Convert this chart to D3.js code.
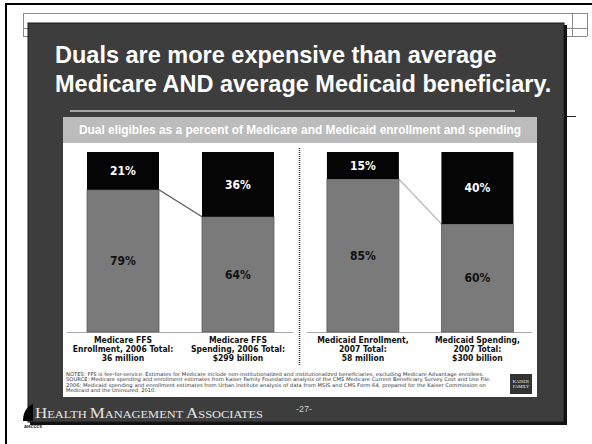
<!DOCTYPE html>
<head>
<meta charset="UTF-8">
<title>Duals spending chart</title>
<style>
body { margin: 0; background: #fff; }
.title { font: bold 23.5px "Liberation Sans", Arial, sans-serif; fill: #fff; }
.hdr { font: bold 11.9px "Liberation Sans", Arial, sans-serif; fill: #fff; }
.pct { font: bold 12px "DejaVu Sans Condensed", "DejaVu Sans", sans-serif; }
.cat { font: bold 8.5px "DejaVu Sans Condensed", "DejaVu Sans", sans-serif; fill: #111; }
.note { font: 5px "DejaVu Sans Condensed", "DejaVu Sans", sans-serif; fill: #333; }
.foot { font-family: "Liberation Serif", "Times New Roman", serif; fill: #e6e6e6; }
</style>
<body>
<script src="https://cdn.jsdelivr.net/npm/d3@7/dist/d3.min.js"></script>
<script>

// data
var categories = [
  ["Medicare FFS", "Enrollment, 2006 Total:", "36 million"],
  ["Medicare FFS", "Spending, 2006 Total:", "$299 billion"],
  ["Medicaid Enrollment,", "2007 Total:", "58 million"],
  ["Medicaid Spending,", "2007 Total:", "$300 billion"]
];
var panelOf = [0, 0, 1, 1];
var dualShare = [21, 36, 15, 40];     // black, top
var otherShare = [79, 64, 85, 60];    // grey, bottom
var titleLines = ["Duals are more expensive than average",
                  "Medicare AND average Medicaid beneficiary."];
var notes = [
  "NOTES: FFS is fee-for-service. Estimates for Medicare include non-institutionalized and institutionalized beneficiaries, excluding Medicare Advantage enrollees.",
  "SOURCE: Medicare spending and enrollment estimates from Kaiser Family Foundation analysis of the CMS Medicare Current Beneficiary Survey Cost and Use File,",
  "2006; Medicaid spending and enrollment estimates from Urban Institute analysis of data from MSIS and CMS Form 64, prepared for the Kaiser Commission on",
  "Medicaid and the Uninsured, 2010."
];

var W = 592, H = 444;
var svg = d3.select("body").append("svg")
    .attr("width", W)
    .attr("height", H);

// page frame (document around the slide)
svg.append("line").attr("x1", 5).attr("x2", 592).attr("y1", 4).attr("y2", 4)
    .attr("stroke", "#000").attr("stroke-width", 2);
svg.append("line").attr("x1", 6).attr("x2", 6).attr("y1", 4).attr("y2", 444)
    .attr("stroke", "#000").attr("stroke-width", 2);

// faint table grid behind the slide
var tbl = svg.append("g").attr("stroke", "#8a8a8a").attr("stroke-width", 1);
[13, 28, 36].forEach(function(y) {
  tbl.append("line").attr("x1", 23).attr("x2", 587).attr("y1", y + 0.5).attr("y2", y + 0.5);
});
[23, 572, 587].forEach(function(x) {
  tbl.append("line").attr("x1", x + 0.5).attr("x2", x + 0.5).attr("y1", 13).attr("y2", 36);
});
svg.append("line").attr("x1", 565).attr("x2", 576).attr("y1", 116.5).attr("y2", 116.5)
    .attr("stroke", "#222");

// slide
svg.append("rect").attr("x", 30).attr("y", 25).attr("width", 537).attr("height", 400)
    .attr("fill", "#111");
svg.append("rect").attr("x", 28).attr("y", 23).attr("width", 536).attr("height", 399)
    .attr("fill", "#3d3d3d").attr("stroke", "#1a1a1a").attr("stroke-width", 1);

svg.selectAll("text.title").data(titleLines).enter().append("text")
    .attr("class", "title")
    .attr("x", 55)
    .attr("y", function(d, i) { return 63 + i * 28.5; })
    .text(function(d) { return d; });

svg.append("line").attr("x1", 70).attr("x2", 515).attr("y1", 111).attr("y2", 111)
    .attr("stroke", "#c8c8c8").attr("stroke-width", 1.5);

// chart panel
svg.append("rect").attr("x", 63).attr("y", 117).attr("width", 474).attr("height", 26)
    .attr("fill", "#bcbcbc");
svg.append("text").attr("class", "hdr").attr("x", 79).attr("y", 134)
    .text("Dual eligibles as a percent of Medicare and Medicaid enrollment and spending");
svg.append("rect").attr("x", 63).attr("y", 143).attr("width", 474).attr("height", 254)
    .attr("fill", "#fff");

var baseY = 332, topY = 152;
var y = d3.scaleLinear().domain([0, 100]).range([baseY, topY]);

var panels = [[67, 294], [307, 533]];
var xs = panels.map(function(r) {
  return d3.scaleBand().domain([0, 1]).range(r).paddingInner(0.374).paddingOuter(0.174);
});
function barX(i) { return xs[panelOf[i]](i % 2); }
var bw = xs[0].bandwidth();

// baselines
panels.forEach(function(r) {
  svg.append("line").attr("x1", r[0]).attr("x2", r[1] - 1).attr("y1", baseY + 0.5).attr("y2", baseY + 0.5)
      .attr("stroke", "#aaa").attr("stroke-width", 1);
});

// dotted separator
svg.append("line").attr("x1", 299.5).attr("x2", 299.5).attr("y1", 148).attr("y2", 365)
    .attr("stroke", "#333").attr("stroke-width", 1.5).attr("stroke-dasharray", "1,1");

var idx = d3.range(categories.length);

// connectors between paired bars
[0, 2].forEach(function(i, k) {
  svg.append("line")
      .attr("x1", barX(i) + bw).attr("y1", y(otherShare[i]))
      .attr("x2", barX(i + 1)).attr("y2", y(otherShare[i + 1]))
      .attr("stroke", k === 0 ? "#555" : "#bbb").attr("stroke-width", 1.2);
});

// grey (non-dual) segments
svg.selectAll("rect.other").data(idx).enter().append("rect")
    .attr("class", "other")
    .attr("x", barX)
    .attr("y", function(i) { return y(otherShare[i]); })
    .attr("width", bw)
    .attr("height", function(i) { return baseY - y(otherShare[i]); })
    .attr("fill", "#7a7a7a").attr("stroke", "#5e5e5e").attr("stroke-width", 0.8);

// black (dual) segments
svg.selectAll("rect.dual").data(idx).enter().append("rect")
    .attr("class", "dual")
    .attr("x", barX)
    .attr("y", function(i) { return y(otherShare[i] + dualShare[i]); })
    .attr("width", bw)
    .attr("height", function(i) { return y(otherShare[i]) - y(otherShare[i] + dualShare[i]); })
    .attr("fill", "#050505");

svg.selectAll("text.dl").data(idx).enter().append("text")
    .attr("class", "pct dl")
    .attr("x", function(i) { return barX(i) + bw / 2; })
    .attr("y", function(i) { return y(otherShare[i] + dualShare[i] / 2); })
    .attr("dy", "0.36em")
    .attr("text-anchor", "middle")
    .attr("fill", "#fff")
    .text(function(i) { return dualShare[i] + "%"; });

svg.selectAll("text.ol").data(idx).enter().append("text")
    .attr("class", "pct ol")
    .attr("x", function(i) { return barX(i) + bw / 2; })
    .attr("y", function(i) { return y(otherShare[i] / 2); })
    .attr("dy", "0.36em")
    .attr("text-anchor", "middle")
    .attr("fill", "#111")
    .text(function(i) { return otherShare[i] + "%"; });

// category labels
idx.forEach(function(i) {
  var t = svg.append("text").attr("class", "cat").attr("text-anchor", "middle");
  categories[i].forEach(function(line, j) {
    t.append("tspan").attr("x", barX(i) + bw / 2).attr("y", 343 + j * 9).text(line);
  });
});

// notes
var noteW = [418, 425, 420, 90];
svg.selectAll("text.note").data(notes).enter().append("text")
    .attr("class", "note")
    .attr("x", 66)
    .attr("y", function(d, i) { return 376 + i * 5.3; })
    .attr("textLength", function(d, i) { return noteW[i]; })
    .attr("lengthAdjust", "spacingAndGlyphs")
    .text(function(d) { return d; });

// Kaiser logo box
svg.append("rect").attr("x", 510).attr("y", 374).attr("width", 22).attr("height", 20).attr("fill", "#333");
["KAISER", "FAMILY"].forEach(function(s, j) {
  svg.append("text").attr("x", 521).attr("y", 383 + j * 5).attr("text-anchor", "middle")
      .style("font", "4.5px 'Liberation Serif', serif").attr("fill", "#eee").text(s);
});

// footer
var ft = svg.append("text").attr("class", "foot").attr("x", 35).attr("y", 418)
    .attr("textLength", 228).attr("lengthAdjust", "spacingAndGlyphs");
[["H", 15], ["EALTH ", 11], ["M", 15], ["ANAGEMENT ", 11], ["A", 15], ["SSOCIATES", 11]].forEach(function(p) {
  ft.append("tspan").style("font-size", p[1] + "px").text(p[0]);
});
svg.append("text").attr("x", 296).attr("y", 412)
    .style("font", "9px 'Liberation Sans Narrow', 'Liberation Sans', sans-serif")
    .attr("fill", "#ccc").text("-27-");

// AHCCCS mark
svg.append("path").attr("d", "M23,421 C23,412 27,406 33,404 L33,421 Z").attr("fill", "#000");
svg.append("text").attr("x", 24).attr("y", 428)
    .style("font", "bold 4px 'DejaVu Sans', sans-serif").attr("fill", "#222").text("AHCCCS");

</script>
</body>
